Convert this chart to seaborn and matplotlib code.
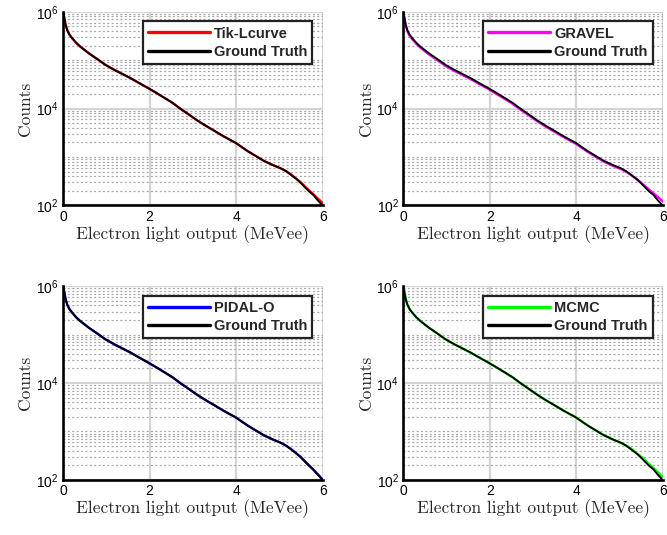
import matplotlib
matplotlib.use("Agg")
import matplotlib.pyplot as plt
import seaborn as sns
import numpy as np
from matplotlib.ticker import MultipleLocator, FixedLocator, NullFormatter

# electron light output grid (MeVee)
light = [0.00, 0.03, 0.06, 0.10, 0.15, 0.21, 0.30, 0.40, 0.60, 0.80,
         0.98, 1.20, 1.37, 1.55, 1.75, 1.95, 2.14, 2.35, 2.52, 2.72,
         2.90, 3.10, 3.30, 3.49, 3.70, 3.99, 4.26, 4.45, 4.64, 4.85,
         5.03, 5.15, 5.26, 5.40, 5.49, 5.58, 5.68, 5.78, 5.88, 5.95, 6.00]

ground_truth = [1.0e6, 7.5e5, 5.4e5, 4.1e5, 3.35e5, 2.85e5, 2.3e5, 1.9e5, 1.38e5, 1.04e5,
                8.0e4, 6.2e4, 5.2e4, 4.3e4, 3.4e4, 2.7e4, 2.15e4, 1.65e4, 1.33e4, 9.8e3,
                7.6e3, 5.7e3, 4.4e3, 3.5e3, 2.7e3, 1.95e3, 1.33e3, 1.05e3, 830, 680,
                585, 510, 430, 345, 290, 240, 195, 165, 128, 110, 95]

tik_lcurve = [1.0e6, 7.4e5, 5.4e5, 4.1e5, 3.35e5, 2.85e5, 2.3e5, 1.9e5, 1.38e5, 1.04e5,
              8.0e4, 6.2e4, 5.2e4, 4.3e4, 3.4e4, 2.7e4, 2.15e4, 1.65e4, 1.33e4, 9.8e3,
              7.6e3, 5.7e3, 4.4e3, 3.5e3, 2.7e3, 1.95e3, 1.33e3, 1.05e3, 830, 680,
              580, 512, 440, 350, 300, 250, 205, 170, 140, 122, 112]

gravel = [1.0e6, 7.1e5, 5.1e5, 3.9e5, 3.2e5, 2.72e5, 2.2e5, 1.8e5, 1.31e5, 9.9e4,
          7.6e4, 5.9e4, 4.95e4, 4.1e4, 3.25e4, 2.6e4, 2.05e4, 1.58e4, 1.27e4, 9.4e3,
          7.3e3, 5.45e3, 4.2e3, 3.35e3, 2.6e3, 1.88e3, 1.28e3, 1.01e3, 800, 655,
          565, 495, 430, 345, 298, 252, 212, 178, 150, 132, 120]

pidal_o = [1.0e6, 7.5e5, 5.4e5, 4.1e5, 3.35e5, 2.85e5, 2.3e5, 1.9e5, 1.38e5, 1.04e5,
           8.0e4, 6.2e4, 5.2e4, 4.3e4, 3.4e4, 2.7e4, 2.15e4, 1.65e4, 1.33e4, 9.8e3,
           7.6e3, 5.7e3, 4.4e3, 3.5e3, 2.7e3, 1.95e3, 1.33e3, 1.05e3, 830, 680,
           582, 508, 438, 345, 298, 245, 200, 162, 132, 112, 100]

mcmc = [1.1e6, 7.7e5, 5.5e5, 4.1e5, 3.35e5, 2.85e5, 2.3e5, 1.9e5, 1.38e5, 1.04e5,
        8.0e4, 6.2e4, 5.2e4, 4.3e4, 3.4e4, 2.7e4, 2.15e4, 1.65e4, 1.33e4, 9.8e3,
        7.6e3, 5.7e3, 4.4e3, 3.5e3, 2.7e3, 1.95e3, 1.33e3, 1.05e3, 830, 680,
        580, 512, 445, 352, 305, 258, 212, 176, 146, 126, 115]

methods = ["Tik-Lcurve", "GRAVEL", "PIDAL-O", "MCMC"]
estimates = [tik_lcurve, gravel, pidal_o, mcmc]
colors = ["#ff0000", "#ff00ff", "#0000ff", "#00ff00"]

sns.set_theme(style="white")
plt.rcParams["font.family"] = ["Liberation Sans", "DejaVu Sans"]
plt.rcParams["mathtext.fontset"] = "custom"
plt.rcParams["mathtext.rm"] = "Liberation Sans"
plt.rcParams["mathtext.it"] = "Liberation Sans"

fig, axes = plt.subplots(2, 2, figsize=(6.67, 5.35), dpi=100)
fig.subplots_adjust(left=0.0945, right=0.994, top=0.978, bottom=0.103,
                    wspace=0.309, hspace=0.417)

minor_y = [m * 10.0 ** k for k in range(2, 6) for m in range(1, 10)]
minor_y = [v for v in minor_y if v not in (1e2, 1e4, 1e6)]

for ax, name, est, col in zip(axes.flat, methods, estimates, colors):
    ax.set_yscale("log")
    sns.lineplot(x=light, y=est, ax=ax, color=col, lw=1.7, label=name,
                 estimator=None, sort=False, zorder=3)
    sns.lineplot(x=light, y=ground_truth, ax=ax, color="black", lw=1.35,
                 label="Ground Truth", estimator=None, sort=False, zorder=4)
    ax.set_xlim(0, 6)
    ax.set_ylim(1e2, 1e6)
    ax.set_xticks([0, 2, 4, 6])
    ax.xaxis.set_minor_locator(MultipleLocator(0.5))
    ax.set_yticks([1e2, 1e4, 1e6], labels=[r"$10^2$", r"$10^4$", r"$10^6$"])
    ax.yaxis.set_minor_locator(FixedLocator(minor_y))
    ax.yaxis.set_minor_formatter(NullFormatter())

    ax.grid(which="major", color="#d4d4d4", lw=1.6, ls="-", zorder=0)
    ax.grid(which="minor", axis="y", color="#a8a8a8", lw=0.9,
            ls=(0, (1.6, 1.9)), zorder=0)
    ax.set_axisbelow(True)

    for s in ["top", "right"]:
        ax.spines[s].set_visible(False)
    for s in ["left", "bottom"]:
        ax.spines[s].set_linewidth(1.9)
        ax.spines[s].set_color("black")
        ax.spines[s].set_zorder(5)

    ax.tick_params(which="both", direction="in", colors="black", width=1.6,
                   labelsize=10)
    ax.tick_params(which="major", length=4.5, pad=3)
    ax.tick_params(which="minor", length=3)

    ax.set_xlabel("Electron light output (MeVee)", family="cmr10",
                  fontsize=12.5, labelpad=1)
    ax.set_ylabel("Counts", family="cmr10", fontsize=12.5, labelpad=2)

    leg = ax.legend(loc="upper right", bbox_to_anchor=(0.96, 0.95),
                    prop={"family": "Liberation Sans", "weight": "bold", "size": 10.5},
                    fancybox=False, framealpha=1, edgecolor="#222222",
                    handlelength=4.3, handletextpad=0.25, labelspacing=0.3,
                    borderpad=0.35, borderaxespad=0)
    leg.get_frame().set_linewidth(1.6)
    for h in leg.get_lines():
        h.set_linewidth(2.4)

fig.savefig("out.png", dpi=100)
